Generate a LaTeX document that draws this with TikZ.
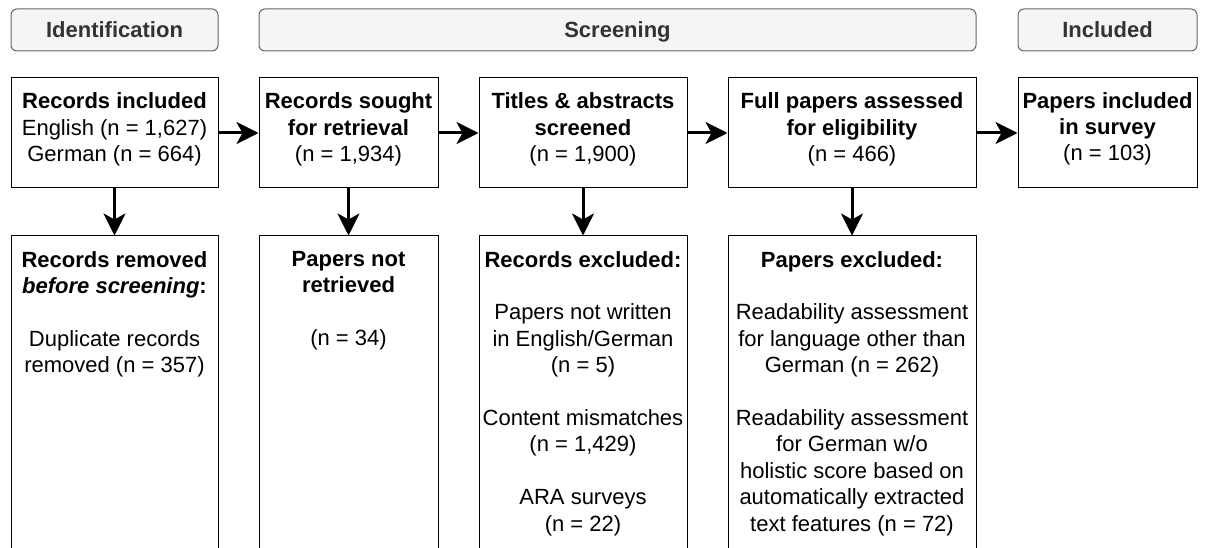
\documentclass[tikz,border=0pt]{standalone}
\usepackage{fontspec}
\setmainfont{Liberation Sans}
\usetikzlibrary{arrows.meta}

\definecolor{hdrfill}{HTML}{F5F5F5}
\definecolor{hdrline}{HTML}{666666}
\definecolor{hdrtext}{HTML}{333333}

\begin{document}
\begin{tikzpicture}[x=1pt,y=-1pt,
  txtfont/.style={font=\fontsize{22}{26.4}\selectfont},
  phase/.style={draw=hdrline, fill=hdrfill, rounded corners=6pt, line width=1pt,
    minimum height=42pt, minimum width=#1, inner sep=0pt, text=hdrtext,
    text height=15.75pt, text depth=0pt,
    font=\bfseries\fontsize{22}{26.4}\selectfont},
  stagebox/.style={draw=black, line width=1pt, fill=white, minimum height=110pt,
    minimum width=#1, inner sep=0pt},
  outbox/.style={draw=black, line width=1pt, fill=white, minimum height=364pt,
    minimum width=#1, inner sep=0pt},
  boxtext/.style={txtfont, align=center, anchor=north, inner sep=0pt},
  flow/.style={line width=3pt, -{Stealth[length=22pt,width=22pt,inset=6pt]}}]

\useasboundingbox (0,0) rectangle (1205,548);
\clip (0,0) rectangle (1205,548);

% phase headers
\node[phase=207] (hid)  at (114.5,30) {Identification};
\node[phase=717] (hscr) at (617.5,30) {Screening};
\node[phase=179] (hinc) at (1107.5,30) {Included};

% main flow boxes
\node[stagebox=207] (b1) at (114.5,133) {};
\node[stagebox=179] (b2) at (348.5,133) {};
\node[stagebox=208] (b3) at (583,133) {};
\node[stagebox=248] (b4) at (852,133) {};
\node[stagebox=179] (b5) at (1107.5,133) {};

\node[boxtext] (t1) at (114.5,92.5) {\textbf{Records included}\\English (n = 1,627)\\German (n = 664)};
\node[boxtext] (t2) at (348.5,92.5) {\textbf{Records sought}\\\textbf{for retrieval}\\(n = 1,934)};
\node[boxtext] (t3) at (583,92.5) {\textbf{Titles \& abstracts}\\\textbf{screened}\\(n = 1,900)};
\node[boxtext] (t4) at (852,92.5) {\textbf{Full papers assessed}\\\textbf{for eligibility}\\(n = 466)};
\node[boxtext] (t5) at (1107.5,92) {\textbf{Papers included}\\\textbf{in survey}\\(n = 103)};

% boxes for removed / excluded records (run past the lower edge)
\node[outbox=207] (c1) at (114.5,418) {};
\node[outbox=179] (c2) at (348.5,418) {};
\node[outbox=208] (c3) at (583,418) {};
\node[outbox=248] (c4) at (852,418) {};

\node[boxtext] (u1) at (114.5,251) {\textbf{Records removed}\\\textbf{\textit{before screening}:}\\[26.4pt]Duplicate records\\removed (n = 357)};
\node[boxtext] (u2) at (348.5,251) {\textbf{Papers not}\\\textbf{retrieved}\\[26.4pt](n = 34)};
\node[boxtext] (u3) at (583,251) {\textbf{Records excluded:}\\[26.4pt]Papers not written\\in English/German\\(n = 5)\\[26.4pt]Content mismatches\\(n = 1,429)\\[26.4pt]ARA surveys\\(n = 22)};
\node[boxtext] (u4) at (852,251) {\textbf{Papers excluded:}\\[26.4pt]Readability assessment\\for language other than\\German (n = 262)\\[26.4pt]Readability assessment\\for German w/o\\holistic score based on\\automatically extracted\\text features (n = 72)};

% connectors
\draw[flow] (b1) -- (b2);
\draw[flow] (b2) -- (b3);
\draw[flow] (b3) -- (b4);
\draw[flow] (b4) -- (b5);
\draw[flow] (b1) -- (c1);
\draw[flow] (b2) -- (c2);
\draw[flow] (b3) -- (c3);
\draw[flow] (b4) -- (c4);
\end{tikzpicture}
\end{document}
